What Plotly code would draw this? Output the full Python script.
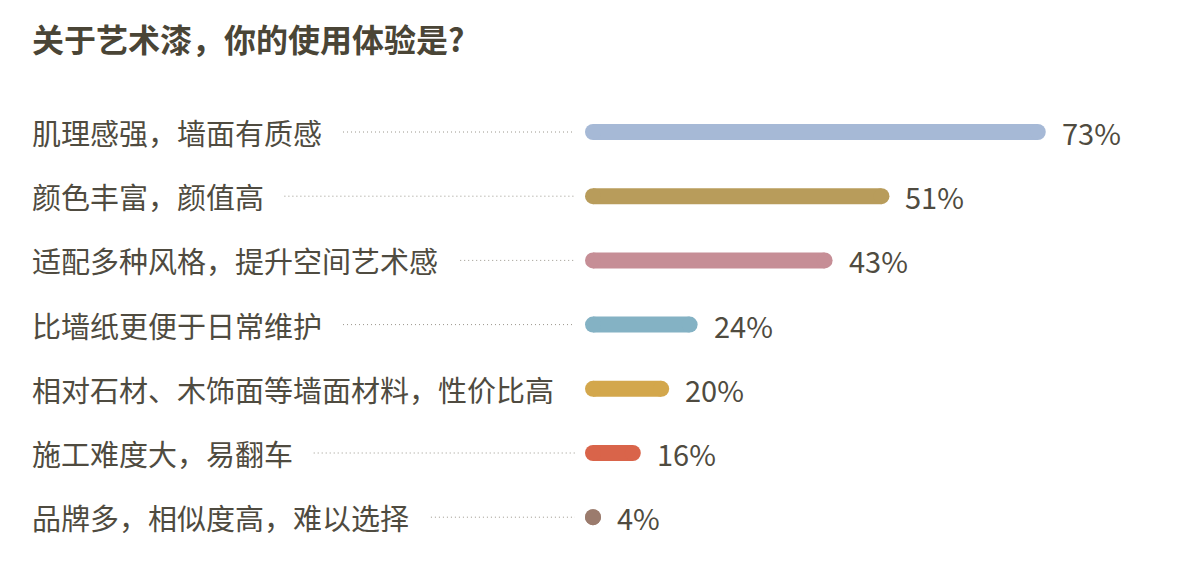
import plotly.graph_objects as go

# 数据
title = "关于艺术漆，你的使用体验是?"
labels = [
    "肌理感强，墙面有质感",
    "颜色丰富，颜值高",
    "适配多种风格，提升空间艺术感",
    "比墙纸更便于日常维护",
    "相对石材、木饰面等墙面材料，性价比高",
    "施工难度大，易翻车",
    "品牌多，相似度高，难以选择",
]
values = [73, 51, 43, 24, 20, 16, 4]
colors = ["#a6b9d6", "#b89c5b", "#c68e96", "#84b2c4", "#d3a74c", "#d9644a", "#9b7b6d"]

# 页面 body 有 8px 边距，所以图整体向左上移 8px
OFF = 8
W, H = 1200 - OFF, 565 - OFF
FONT = "Noto Sans CJK SC"
TEXT_COLOR = "#4f4b40"

# 像素比例: 每 1% 约 7.1px，条形起点在 x=593
px_per_unit = 7.105
bar_base = 10.4
x_lo = bar_base - (593 - OFF) / px_per_unit
x_hi = x_lo + W / px_per_unit

row_top, row_gap = 132 - OFF, 64.2
y_lo = -row_top / row_gap
y_hi = (H - row_top) / row_gap

fig = go.Figure()

for i, (lab, v, c) in enumerate(zip(labels, values, colors)):
    end = max(v, bar_base)
    fig.add_trace(go.Scatter(
        x=[bar_base, end], y=[i, i], mode="lines+markers",
        line=dict(color=c, width=16),
        marker=dict(color=c, size=16, line=dict(width=0)),
        hoverinfo="skip", showlegend=False,
    ))
    # 左侧标签
    fig.add_annotation(
        x=(30 - OFF) / W, xref="paper", y=i, yref="y", text=lab, showarrow=False,
        xanchor="left", yanchor="middle",
        font=dict(family=FONT, size=29, color=TEXT_COLOR),
    )
    # 数值
    fig.add_annotation(
        x=end, y=i, text=f"{v}%", showarrow=False, xanchor="left", yanchor="middle",
        xshift=22, font=dict(family=FONT, size=29, color=TEXT_COLOR),
    )
    # 虚线引导
    dot_start = 30 + len(lab) * 29.3 + 20
    if dot_start < 570:
        fig.add_shape(
            type="line", xref="paper", yref="y",
            x0=(dot_start - OFF) / W, x1=(575 - OFF) / W, y0=i, y1=i,
            line=dict(color="#9a968c", width=1, dash="1px,3px"),
        )

fig.add_annotation(
    x=(30 - OFF) / W, xref="paper", y=1 - (38 - OFF) / H, yref="paper",
    text=f"<b>{title}</b>", showarrow=False, xanchor="left", yanchor="middle",
    font=dict(family=FONT, size=32, color="#4a4536"),
)

fig.update_layout(
    width=W, height=H,
    margin=dict(l=0, r=0, t=0, b=0),
    paper_bgcolor="white", plot_bgcolor="white",
    xaxis=dict(range=[x_lo, x_hi], visible=False, fixedrange=True),
    yaxis=dict(range=[y_hi, y_lo], visible=False, fixedrange=True),
)

fig.write_html("out.html")
